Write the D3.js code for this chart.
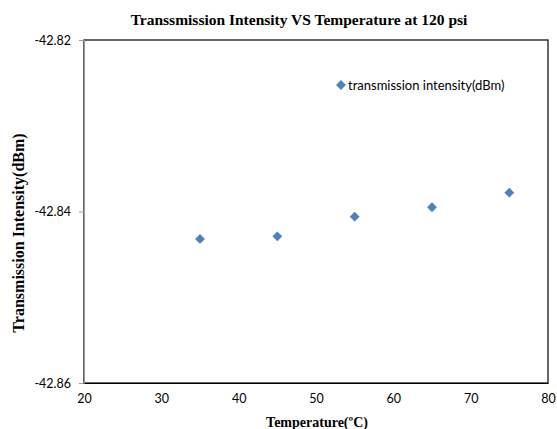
<!DOCTYPE html>
<html>
<head>
<meta charset="utf-8">
<script src="https://cdn.jsdelivr.net/npm/d3@7"></script>
<style>
  body { margin: 0; background: #fff; }
  .tick text { font-family: Lato, "Open Sans", sans-serif; font-size: 12.5px; fill: #000; }
</style>
</head>
<body>
<div id="chart"></div>
<script>
var temperatures = [35, 45, 55, 65, 75];
var intensities = [-42.8432, -42.8429, -42.8406, -42.8395, -42.8378];
var xTicks = [20, 30, 40, 50, 60, 70, 80];
var yTicks = [-42.86, -42.84, -42.82];

var fullWidth = 557, fullHeight = 429;
var margin = {top: 40, right: 9, bottom: 46, left: 84};
var width = fullWidth - margin.left - margin.right,
    height = fullHeight - margin.top - margin.bottom;

var svg = d3.select("#chart").append("svg")
    .attr("width", fullWidth)
    .attr("height", fullHeight);

var x = d3.scaleLinear().domain([20, 80]).range([0, width]);
var y = d3.scaleLinear().domain([-42.86, -42.82]).range([height, 0]);

var g = svg.append("g")
    .attr("transform", "translate(" + margin.left + "," + margin.top + ")");

// plot area border
g.append("rect")
    .attr("width", width)
    .attr("height", height)
    .attr("fill", "none")
    .attr("stroke", "#000")
    .attr("stroke-width", 1.2);

var yAxis = g.append("g")
    .call(d3.axisLeft(y).tickValues(yTicks).tickSize(5).tickPadding(8)
      .tickFormat(function(d) { return d.toFixed(2); }));
yAxis.select(".domain").attr("stroke", "#999");
yAxis.selectAll(".tick line").attr("stroke", "#999");

var xAxis = g.append("g")
    .attr("transform", "translate(0," + height + ")")
    .call(d3.axisBottom(x).tickValues(xTicks).tickSize(0).tickPadding(11));
xAxis.select(".domain").attr("stroke", "#000").attr("stroke-width", 1.2);

// data points
var diamond = d3.symbol().type(d3.symbolDiamond2).size(62);
g.selectAll(".pt")
    .data(temperatures)
    .enter()
    .append("path")
    .attr("class", "pt")
    .attr("d", diamond)
    .attr("fill", "#4F81BD")
    .attr("transform", function(d, i) { return "translate(" + x(d) + "," + y(intensities[i]) + ")"; });

// legend
svg.append("path")
    .attr("d", diamond)
    .attr("fill", "#4F81BD")
    .attr("transform", "translate(341,85)");
svg.append("text")
    .attr("x", 348)
    .attr("y", 89.5)
    .style("font-family", "Lato, 'Open Sans', sans-serif")
    .style("font-size", "13px")
    .text("transmission intensity(dBm)");

// titles
svg.append("text")
    .attr("x", 299)
    .attr("y", 25)
    .attr("text-anchor", "middle")
    .style("font-family", "'Liberation Serif', 'Times New Roman', serif")
    .style("font-weight", "bold")
    .style("font-size", "15.5px")
    .text("Transsmission Intensity VS Temperature at 120 psi");

svg.append("text")
    .attr("transform", "translate(24,233) rotate(-90)")
    .attr("text-anchor", "middle")
    .style("font-family", "'Liberation Serif', 'Times New Roman', serif")
    .style("font-weight", "bold")
    .style("font-size", "16px")
    .text("Transmission Intensity(dBm)");

svg.append("text")
    .attr("x", 317)
    .attr("y", 427)
    .attr("text-anchor", "middle")
    .style("font-family", "'Liberation Serif', 'Times New Roman', serif")
    .style("font-weight", "bold")
    .style("font-size", "14px")
    .text("Temperature(ºC)");
</script>
</body>
</html>
